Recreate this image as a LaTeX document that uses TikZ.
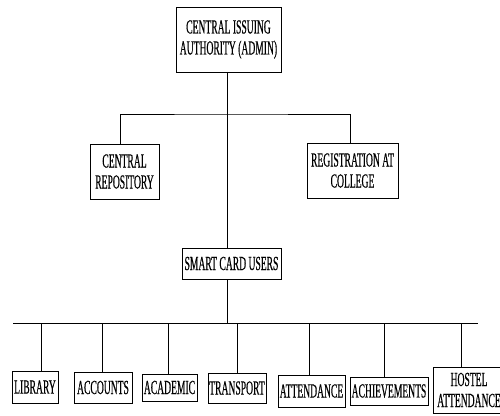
\documentclass[tikz,border=0pt]{standalone}
\usepackage{fontspec}
\setmainfont{Liberation Serif}[FakeStretch=0.48, FakeBold=0.4]
\begin{document}
\begin{tikzpicture}[x=1pt, y=1pt,
	caja/.style={draw, line width=0.9pt, inner sep=0pt, align=center, font=\fontsize{20}{21}\selectfont},
	linea/.style={line width=0.8pt}]
\useasboundingbox (0,0) rectangle (500,415);

% Nivel superior
\node[caja, minimum width=105pt, minimum height=65pt] (admin) at (228.5,375.5) {CENTRAL ISSUING\\AUTHORITY (ADMIN)};
\node[caja, minimum width=69pt, minimum height=55pt] (repo) at (124.5,243.5) {CENTRAL\\REPOSITORY};
\node[caja, minimum width=91pt, minimum height=55pt] (reg) at (352.5,244.5) {REGISTRATION AT\\COLLEGE};
\node[caja, minimum width=99pt, minimum height=31pt] (users) at (231.5,151.5) {SMART CARD USERS};

\coordinate (eje) at (227,343);
\coordinate (bus1) at (227,301);
\draw[linea] (eje) -- (eje |- users.north);
\draw[linea] (repo.north -| 120,0) |- (bus1) -| (reg.north -| 350,0);

% Usuarios
\node[caja, minimum width=46pt, minimum height=32pt] (lib) at (35,28) {LIBRARY};
\node[caja, minimum width=58pt, minimum height=31pt] (acc) at (103,27.5) {ACCOUNTS};
\node[caja, minimum width=55pt, minimum height=27pt] (acad) at (169.5,27.5) {ACADEMIC};
\node[caja, minimum width=58pt, minimum height=30pt] (trans) at (237,27) {TRANSPORT};
\node[caja, minimum width=67pt, minimum height=32pt] (att) at (311.5,24) {ATTENDANCE};
\node[caja, minimum width=78pt, minimum height=28pt] (ach) at (389,24) {ACHIEVEMENTS};
\node[caja, minimum width=72pt, minimum height=46pt] (hostel) at (469,25) {HOSTEL\\ATTENDANCE};

\coordinate (busL) at (13,92);
\coordinate (busR) at (478,92);
\draw[linea] (eje |- users.south) -- (eje |- busL);
\draw[linea] (busL) -- (busR);
	\foreach \n/\x in {lib/41, acc/102, acad/168, trans/237, att/309, ach/384, hostel/461}{
		\coordinate (tmp) at (\x,92);
		\draw[linea] (tmp) -- (tmp |- \n.north);
	}
\end{tikzpicture}
\end{document}
